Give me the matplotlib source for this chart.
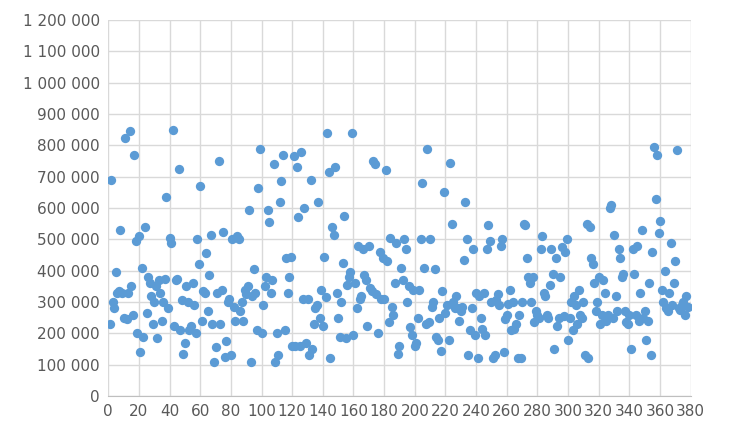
import numpy as np
import matplotlib.pyplot as plt
from matplotlib.ticker import FuncFormatter, MultipleLocator

# values in thousands, one point per index
values = [
    230, 690, 300, 280, 395, 330, 335, 530, 330, 250,
    825, 245, 330, 845, 350, 260, 770, 495, 200, 510,
    140, 410, 190, 540, 265, 380, 360, 320, 230, 300,
    350, 185, 370, 330, 240, 300, 375, 635, 280, 505,
    490, 850, 225, 370, 375, 725, 210, 305, 135, 170,
    350, 300, 210, 225, 360, 290, 200, 500, 420, 670,
    240, 335, 330, 455, 270, 385, 515, 230, 110, 155,
    330, 750, 230, 340, 525, 125, 175, 300, 310, 130,
    500, 285, 240, 510, 500, 270, 300, 240, 340, 325,
    350, 595, 110, 320, 405, 330, 210, 665, 790, 200,
    290, 350, 380, 595, 555, 330, 370, 740, 110, 200,
    130, 620, 685, 770, 210, 440, 330, 380, 445, 160,
    765, 160, 730, 570, 160, 780, 310, 600, 170, 310,
    130, 690, 150, 230, 280, 290, 620, 250, 340, 225,
    445, 315, 840, 715, 120, 540, 515, 730, 330, 250,
    190, 300, 425, 575, 185, 355, 380, 395, 840, 195,
    360, 280, 480, 310, 320, 470, 385, 370, 225, 480,
    345, 335, 750, 740, 325, 200, 460, 310, 440, 310,
    720, 430, 235, 505, 285, 260, 360, 490, 135, 160,
    410, 370, 500, 470, 300, 350, 220, 195, 340, 160,
    170, 250, 340, 500, 680, 410, 230, 790, 235, 500,
    285, 300, 405, 190, 180, 250, 145, 335, 650, 265,
    290, 180, 745, 550, 300, 280, 320, 280, 240, 270,
    285, 435, 620, 500, 130, 210, 280, 470, 195, 330,
    120, 320, 250, 215, 330, 195, 470, 545, 495, 300,
    120, 130, 305, 325, 290, 480, 500, 140, 245, 260,
    295, 340, 210, 300, 215, 230, 120, 260, 120, 300,
    550, 545, 440, 380, 360, 300, 380, 235, 270, 260,
    250, 470, 510, 330, 320, 260, 250, 355, 470, 390,
    150, 440, 225, 250, 380, 475, 255, 460, 500, 180,
    250, 300, 210, 320, 290, 230, 340, 260, 250, 300,
    130, 550, 120, 540, 440, 420, 360, 270, 300, 380,
    230, 260, 370, 330, 240, 260, 600, 610, 250, 515,
    320, 270, 470, 440, 380, 390, 270, 235, 230, 260,
    150, 470, 390, 260, 480, 240, 330, 530, 250, 270,
    180, 240, 360, 130, 460, 795, 630, 770, 520, 560,
    340, 300, 400, 280, 270, 330, 490, 290, 360, 430,
    785, 280, 275, 290, 300, 260, 320, 285,
]
x = np.arange(1, len(values) + 1)
y = np.array(values) * 1000

fig = plt.figure(figsize=(7.31, 4.46), dpi=100)
ax = fig.add_axes([0.148, 0.112, 0.797, 0.843])
ax.scatter(x, y, s=45, color="#5B9BD5", zorder=3, linewidths=0)

ax.set_xlim(0, 380)
ax.set_ylim(0, 1200000)
ax.xaxis.set_major_locator(MultipleLocator(20))
ax.yaxis.set_major_locator(MultipleLocator(100000))
ax.yaxis.set_major_formatter(FuncFormatter(lambda v, pos: f"{int(v):,}".replace(",", " ")))
ax.grid(True, color="#D9D9D9", linewidth=1)
ax.set_axisbelow(True)
for s in ["top", "right", "left"]:
    ax.spines[s].set_visible(False)
ax.spines["bottom"].set_color("#BFBFBF")
ax.tick_params(length=0, labelsize=11, labelcolor="#595959", pad=6)

fig.savefig("out.png", dpi=100)
